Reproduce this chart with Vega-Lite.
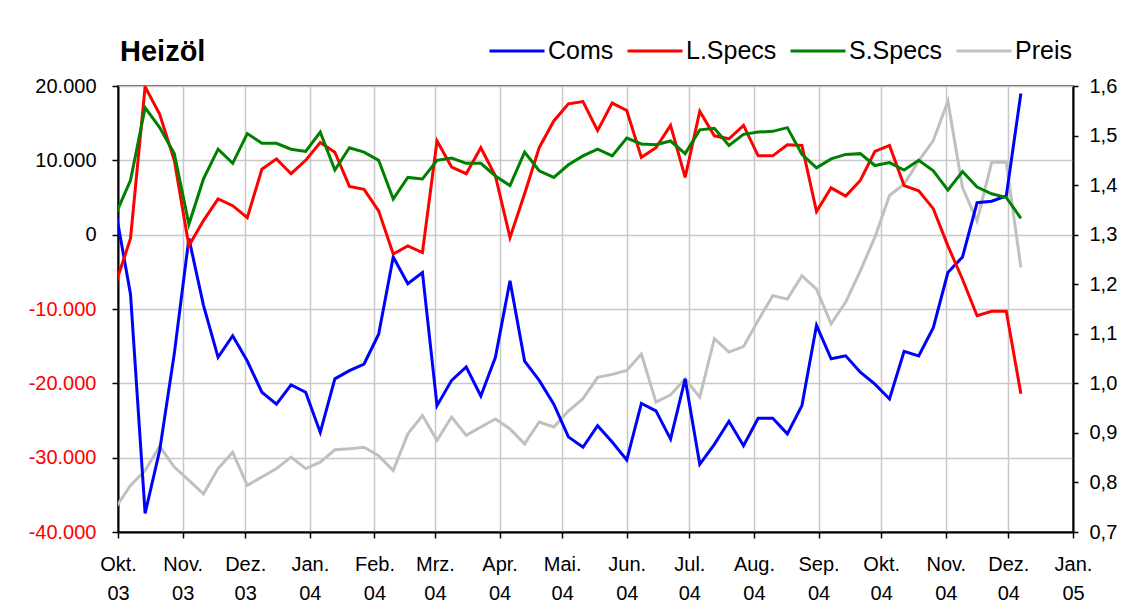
{
  "$schema": "https://vega.github.io/schema/vega-lite/v6.json",
  "width": 955,
  "height": 446,
  "autosize": {"type": "none"},
  "padding": {"left": 118, "top": 86, "right": 50, "bottom": 82},
  "background": "white",
  "config": {
    "font": "Liberation Sans",
    "view": {"stroke": "#606060", "strokeWidth": 2}
  },
  "title": {
    "text": "Heizöl",
    "anchor": "start",
    "frame": "group",
    "font": "Liberation Sans",
    "fontSize": 29,
    "fontWeight": "bold",
    "color": "black",
    "baseline": "alphabetic",
    "offset": -68,
    "dx": 2
  },
  "data": {
    "values": [
      {"d": "2003-09-30", "Coms": 3000, "LSpecs": -6500, "SSpecs": 2800, "Preis": 0.750},
      {"d": "2003-10-07", "Coms": -8000, "LSpecs": -500, "SSpecs": 7300, "Preis": 0.794},
      {"d": "2003-10-14", "Coms": -37500, "LSpecs": 19900, "SSpecs": 17100, "Preis": 0.824},
      {"d": "2003-10-21", "Coms": -29000, "LSpecs": 16200, "SSpecs": 14400, "Preis": 0.873},
      {"d": "2003-10-28", "Coms": -16000, "LSpecs": 10000, "SSpecs": 10900, "Preis": 0.831},
      {"d": "2003-11-04", "Coms": -500, "LSpecs": -1500, "SSpecs": 1400, "Preis": 0.804},
      {"d": "2003-11-11", "Coms": -9500, "LSpecs": 1900, "SSpecs": 7500, "Preis": 0.777},
      {"d": "2003-11-18", "Coms": -16500, "LSpecs": 4800, "SSpecs": 11500, "Preis": 0.828},
      {"d": "2003-11-25", "Coms": -13600, "LSpecs": 3900, "SSpecs": 9600, "Preis": 0.861},
      {"d": "2003-12-02", "Coms": -17000, "LSpecs": 2300, "SSpecs": 13600, "Preis": 0.794},
      {"d": "2003-12-09", "Coms": -21200, "LSpecs": 8800, "SSpecs": 12300, "Preis": 0.811},
      {"d": "2003-12-16", "Coms": -22800, "LSpecs": 10200, "SSpecs": 12300, "Preis": 0.828},
      {"d": "2003-12-23", "Coms": -20200, "LSpecs": 8200, "SSpecs": 11500, "Preis": 0.851},
      {"d": "2003-12-30", "Coms": -21200, "LSpecs": 10000, "SSpecs": 11200, "Preis": 0.828},
      {"d": "2004-01-06", "Coms": -26600, "LSpecs": 12400, "SSpecs": 13800, "Preis": 0.841},
      {"d": "2004-01-13", "Coms": -19400, "LSpecs": 11100, "SSpecs": 8700, "Preis": 0.866},
      {"d": "2004-01-20", "Coms": -18300, "LSpecs": 6500, "SSpecs": 11700, "Preis": 0.868},
      {"d": "2004-01-27", "Coms": -17400, "LSpecs": 6100, "SSpecs": 11100, "Preis": 0.871},
      {"d": "2004-02-03", "Coms": -13400, "LSpecs": 3200, "SSpecs": 10000, "Preis": 0.854},
      {"d": "2004-02-10", "Coms": -3000, "LSpecs": -2600, "SSpecs": 4800, "Preis": 0.824},
      {"d": "2004-02-17", "Coms": -6600, "LSpecs": -1500, "SSpecs": 7700, "Preis": 0.898},
      {"d": "2004-02-24", "Coms": -5100, "LSpecs": -2400, "SSpecs": 7500, "Preis": 0.935},
      {"d": "2004-03-02", "Coms": -23000, "LSpecs": 12600, "SSpecs": 10000, "Preis": 0.885},
      {"d": "2004-03-09", "Coms": -19600, "LSpecs": 9100, "SSpecs": 10300, "Preis": 0.932},
      {"d": "2004-03-16", "Coms": -17800, "LSpecs": 8200, "SSpecs": 9600, "Preis": 0.895},
      {"d": "2004-03-23", "Coms": -21700, "LSpecs": 11700, "SSpecs": 9600, "Preis": 0.912},
      {"d": "2004-03-30", "Coms": -16500, "LSpecs": 7900, "SSpecs": 7900, "Preis": 0.928},
      {"d": "2004-04-06", "Coms": -6200, "LSpecs": -400, "SSpecs": 6600, "Preis": 0.908},
      {"d": "2004-04-13", "Coms": -17000, "LSpecs": 5500, "SSpecs": 11100, "Preis": 0.878},
      {"d": "2004-04-20", "Coms": -19600, "LSpecs": 11700, "SSpecs": 8600, "Preis": 0.922},
      {"d": "2004-04-27", "Coms": -22800, "LSpecs": 15300, "SSpecs": 7700, "Preis": 0.912},
      {"d": "2004-05-04", "Coms": -27200, "LSpecs": 17600, "SSpecs": 9400, "Preis": 0.944},
      {"d": "2004-05-11", "Coms": -28600, "LSpecs": 17900, "SSpecs": 10600, "Preis": 0.969},
      {"d": "2004-05-18", "Coms": -25700, "LSpecs": 14000, "SSpecs": 11500, "Preis": 1.012},
      {"d": "2004-05-25", "Coms": -27900, "LSpecs": 17700, "SSpecs": 10600, "Preis": 1.018},
      {"d": "2004-06-01", "Coms": -30300, "LSpecs": 16700, "SSpecs": 13000, "Preis": 1.026},
      {"d": "2004-06-08", "Coms": -22700, "LSpecs": 10400, "SSpecs": 12200, "Preis": 1.059},
      {"d": "2004-06-15", "Coms": -23700, "LSpecs": 11700, "SSpecs": 12100, "Preis": 0.962},
      {"d": "2004-06-22", "Coms": -27500, "LSpecs": 14700, "SSpecs": 12600, "Preis": 0.977},
      {"d": "2004-06-29", "Coms": -19400, "LSpecs": 7700, "SSpecs": 10900, "Preis": 1.009},
      {"d": "2004-07-06", "Coms": -30900, "LSpecs": 16600, "SSpecs": 14100, "Preis": 0.972},
      {"d": "2004-07-13", "Coms": -28200, "LSpecs": 13300, "SSpecs": 14300, "Preis": 1.090},
      {"d": "2004-07-20", "Coms": -25100, "LSpecs": 12900, "SSpecs": 12000, "Preis": 1.063},
      {"d": "2004-07-27", "Coms": -28400, "LSpecs": 14700, "SSpecs": 13500, "Preis": 1.074},
      {"d": "2004-08-03", "Coms": -24700, "LSpecs": 10600, "SSpecs": 13800, "Preis": 1.127},
      {"d": "2004-08-10", "Coms": -24700, "LSpecs": 10600, "SSpecs": 13900, "Preis": 1.177},
      {"d": "2004-08-17", "Coms": -26800, "LSpecs": 12100, "SSpecs": 14400, "Preis": 1.170},
      {"d": "2004-08-24", "Coms": -23000, "LSpecs": 12000, "SSpecs": 10800, "Preis": 1.217},
      {"d": "2004-08-31", "Coms": -12200, "LSpecs": 3100, "SSpecs": 9000, "Preis": 1.190},
      {"d": "2004-09-07", "Coms": -16700, "LSpecs": 6300, "SSpecs": 10200, "Preis": 1.120},
      {"d": "2004-09-14", "Coms": -16300, "LSpecs": 5200, "SSpecs": 10800, "Preis": 1.164},
      {"d": "2004-09-21", "Coms": -18500, "LSpecs": 7300, "SSpecs": 10900, "Preis": 1.227},
      {"d": "2004-09-28", "Coms": -20100, "LSpecs": 11200, "SSpecs": 9300, "Preis": 1.295},
      {"d": "2004-10-05", "Coms": -22100, "LSpecs": 12000, "SSpecs": 9700, "Preis": 1.379},
      {"d": "2004-10-12", "Coms": -15700, "LSpecs": 6600, "SSpecs": 8700, "Preis": 1.402},
      {"d": "2004-10-19", "Coms": -16300, "LSpecs": 5900, "SSpecs": 10000, "Preis": 1.449},
      {"d": "2004-10-26", "Coms": -12500, "LSpecs": 3500, "SSpecs": 8600, "Preis": 1.490},
      {"d": "2004-11-02", "Coms": -5100, "LSpecs": -1500, "SSpecs": 6000, "Preis": 1.569},
      {"d": "2004-11-09", "Coms": -3000, "LSpecs": -6000, "SSpecs": 8500, "Preis": 1.395},
      {"d": "2004-11-16", "Coms": 4300, "LSpecs": -10900, "SSpecs": 6400, "Preis": 1.328},
      {"d": "2004-11-23", "Coms": 4500, "LSpecs": -10300, "SSpecs": 5500, "Preis": 1.446},
      {"d": "2004-11-30", "Coms": 5200, "LSpecs": -10300, "SSpecs": 5000, "Preis": 1.446},
      {"d": "2004-12-07", "Coms": 19000, "LSpecs": -21400, "SSpecs": 2200, "Preis": 1.234}
    ]
  },
  "transform": [
    {"fold": ["Coms", "LSpecs", "SSpecs", "Preis"], "as": ["series", "value"]}
  ],
  "encoding": {
    "x": {
      "field": "d",
      "type": "temporal",
      "scale": {
        "type": "utc",
        "domain": [
          {"year": 2003, "month": 10, "date": 1, "utc": true},
          {"year": 2005, "month": 1, "date": 1, "utc": true}
        ]
      },
      "axis": {
        "orient": "bottom",
        "title": null,
        "tickCount": {"interval": "month", "step": 1},
        "grid": true,
        "gridColor": "#c8c8c8",
        "gridWidth": 1.5,
        "domainColor": "black",
        "domainWidth": 2,
        "tickColor": "black",
        "tickWidth": 1.5,
        "tickSize": 6,
        "labelFont": "Liberation Sans",
        "labelFontSize": 20,
        "labelColor": "black",
        "labelPadding": 16,
        "labelBaseline": "top",
        "labelAlign": "center",
        "labelLineHeight": 29,
        "labelOverlap": false,
        "labelFlush": false,
        "labelExpr": "[['Jan.','Feb.','Mrz.','Apr.','Mai.','Jun.','Jul.','Aug.','Sep.','Okt.','Nov.','Dez.'][utcmonth(datum.value)], utcFormat(datum.value, '%y')]"
      }
    },
    "color": {
      "field": "series",
      "type": "nominal",
      "scale": {
        "domain": ["Coms", "LSpecs", "SSpecs", "Preis"],
        "range": ["#0000ff", "#ff0000", "#008000", "#c0c0c0"]
      },
      "legend": {
        "title": null,
        "orient": "none",
        "legendX": 370,
        "legendY": -64,
        "direction": "horizontal",
        "symbolType": "stroke",
        "symbolSize": 3025,
        "symbolStrokeWidth": 3,
        "labelFont": "Liberation Sans",
        "labelFontSize": 25,
        "labelColor": "black",
        "labelOffset": 2,
        "columnPadding": 7,
        "padding": 0,
        "labelExpr": "datum.label == 'LSpecs' ? 'L.Specs' : datum.label == 'SSpecs' ? 'S.Specs' : datum.label"
      }
    }
  },
  "layer": [
    {
      "transform": [{"filter": "datum.series == 'Preis'"}],
      "mark": {"type": "line", "strokeWidth": 3, "clip": true},
      "encoding": {
        "y": {
          "field": "value",
          "type": "quantitative",
          "scale": {"domain": [0.7, 1.6], "nice": false, "zero": false},
          "axis": {
            "orient": "right",
            "title": null,
            "values": [0.7, 0.8, 0.9, 1.0, 1.1, 1.2, 1.3, 1.4, 1.5, 1.6],
            "grid": false,
            "domainColor": "black",
            "domainWidth": 2,
            "tickColor": "black",
            "tickWidth": 1.5,
            "tickSize": 5,
            "labelPadding": 11,
            "labelFont": "Liberation Sans",
            "labelFontSize": 20,
            "labelColor": "black",
            "labelExpr": "replace(format(datum.value, '.1f'), '.', ',')"
          }
        }
      }
    },
    {
      "mark": {"type": "rule", "color": "black", "strokeWidth": 1.5},
      "encoding": {
        "color": {"value": "black"},
        "y": {
          "datum": 0,
          "type": "quantitative",
          "scale": {"domain": [-40000, 20000], "nice": false, "zero": false},
          "axis": null
        }
      }
    },
    {
      "transform": [{"filter": "datum.series != 'Preis'"}],
      "mark": {"type": "line", "strokeWidth": 3, "clip": true},
      "encoding": {
        "y": {
          "field": "value",
          "type": "quantitative",
          "scale": {"domain": [-40000, 20000], "nice": false, "zero": false},
          "axis": {
            "orient": "left",
            "title": null,
            "values": [-40000, -30000, -20000, -10000, 0, 10000, 20000],
            "grid": true,
            "gridColor": "#c8c8c8",
            "gridWidth": 1.5,
            "domainColor": "black",
            "domainWidth": 2,
            "tickColor": "black",
            "tickWidth": 1.5,
            "tickSize": 6,
            "labelPadding": 16,
            "labelFont": "Liberation Sans",
            "labelFontSize": 20,
            "labelColor": {"condition": {"test": "datum.value < 0", "value": "#ff0000"}, "value": "black"},
            "labelExpr": "(datum.value < 0 ? '-' : '') + replace(format(abs(datum.value), ','), ',', '.')"
          }
        }
      }
    }
  ],
  "resolve": {"scale": {"y": "independent"}, "axis": {"y": "independent"}}
}
